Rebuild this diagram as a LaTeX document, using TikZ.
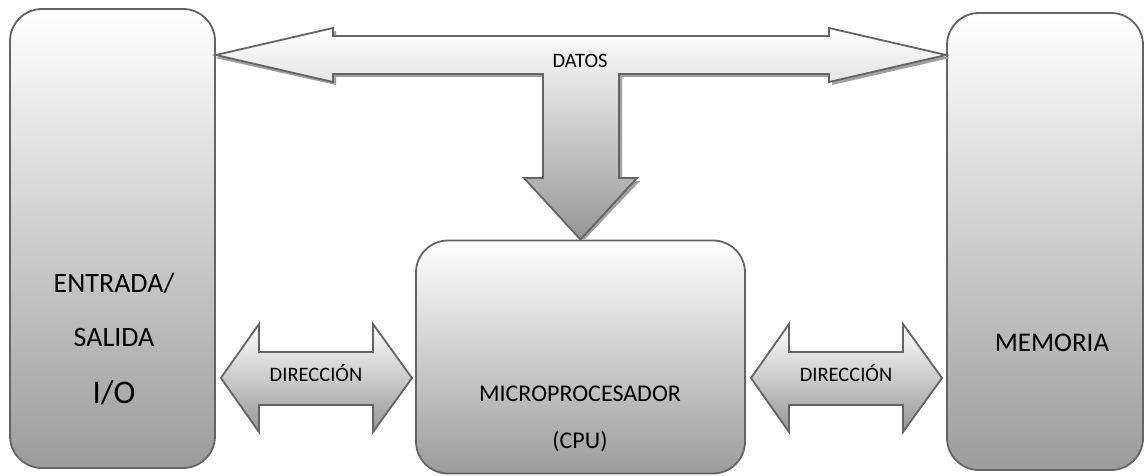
\documentclass[tikz,border=0pt]{standalone}
\usepackage{fontspec}
\setmainfont{Carlito}
\definecolor{edge}{RGB}{100,100,100}
\definecolor{shade}{RGB}{160,160,160}
\definecolor{boxbot}{RGB}{156,156,156}
\definecolor{arrbot}{RGB}{150,150,150}
\begin{document}
\begin{tikzpicture}[x=1pt,y=-1pt,
  unitbox/.style={draw=edge,line width=1.8pt,rounded corners=32pt,top color=white,bottom color=boxbot,inner sep=0pt},
  blockarrow/.style={draw=edge,line width=1.8pt,line join=miter,top color=white,bottom color=arrbot},
  arrowshadow/.style={fill=shade,draw=none},
  lbl/.style={inner sep=0pt,text=black}]
\useasboundingbox (0,0) rectangle (1145,476);
% boxes
\node[unitbox,minimum width=205pt,minimum height=459pt] (io) at (112.5,238.5) {};
\node[unitbox,minimum width=196pt,minimum height=457pt] (mem) at (1045,241.5) {};
\node[unitbox,minimum width=329pt,minimum height=233pt] (cpu) at (580.5,357) {};
% data bus shadow
\fill[arrowshadow] (215,58) -- (336,31) -- (336,39) -- (832,39) -- (832,31) -- (950,58) -- (832,85) -- (832,77) -- (622,77) -- (622,181) -- (640,181) -- (584,240) -- (527,181) -- (546,181) -- (546,77) -- (336,77) -- (336,85) -- cycle;
% data bus
\draw[blockarrow] (io.east |- 0,55) coordinate (dl) -- (333,28) -- (333,36) -- (829,36) -- (829,28) -- (mem.west |- 0,55) coordinate (dr) -- (829,82) -- (829,74) -- (619,74) -- (619,178) -- (637,178) -- (cpu.north) coordinate (dd) -- (524,178) -- (543,178) -- (543,74) -- (333,74) -- (333,82) -- cycle;
\node[lbl,font=\fontsize{20.5}{24}\selectfont] (datos) at (580,61) {DATOS};
% address buses
\draw[blockarrow] (io.east |- 0,378) ++(5,0) coordinate (al) -- (259,324) -- (259,352) -- (373,352) -- (373,324) -- (412,378) coordinate (ar) -- (373,432) -- (373,405) -- (259,405) -- (259,432) -- cycle;
\node[lbl,font=\fontsize{20.5}{24}\selectfont] (dir1) at (316,373) {DIRECCIÓN};
\draw[blockarrow] (751,378) coordinate (bl) -- (789,324) -- (789,352) -- (903,352) -- (903,324) -- (942,378) coordinate (br) -- (903,432) -- (903,405) -- (789,405) -- (789,432) -- cycle;
\node[lbl,font=\fontsize{20.5}{24}\selectfont] (dir2) at (846,373) {DIRECCIÓN};
% box texts
\node[lbl,font=\fontsize{28}{32}\selectfont] (t1) at (114,283) {ENTRADA/};
\node[lbl,font=\fontsize{28}{32}\selectfont] (t2) at (114,338) {SALIDA};
\node[lbl,font=\fontsize{33}{38}\selectfont] (t3) at (114,393) {I/O};
\node[lbl,font=\fontsize{24}{28}\selectfont] (t4) at (580,394) {MICROPROCESADOR};
\node[lbl,font=\fontsize{24}{28}\selectfont] (t5) at (580,441) {(CPU)};
\node[lbl,font=\fontsize{27}{32}\selectfont] (t6) at (1052,343) {MEMORIA};
\end{tikzpicture}
\end{document}
